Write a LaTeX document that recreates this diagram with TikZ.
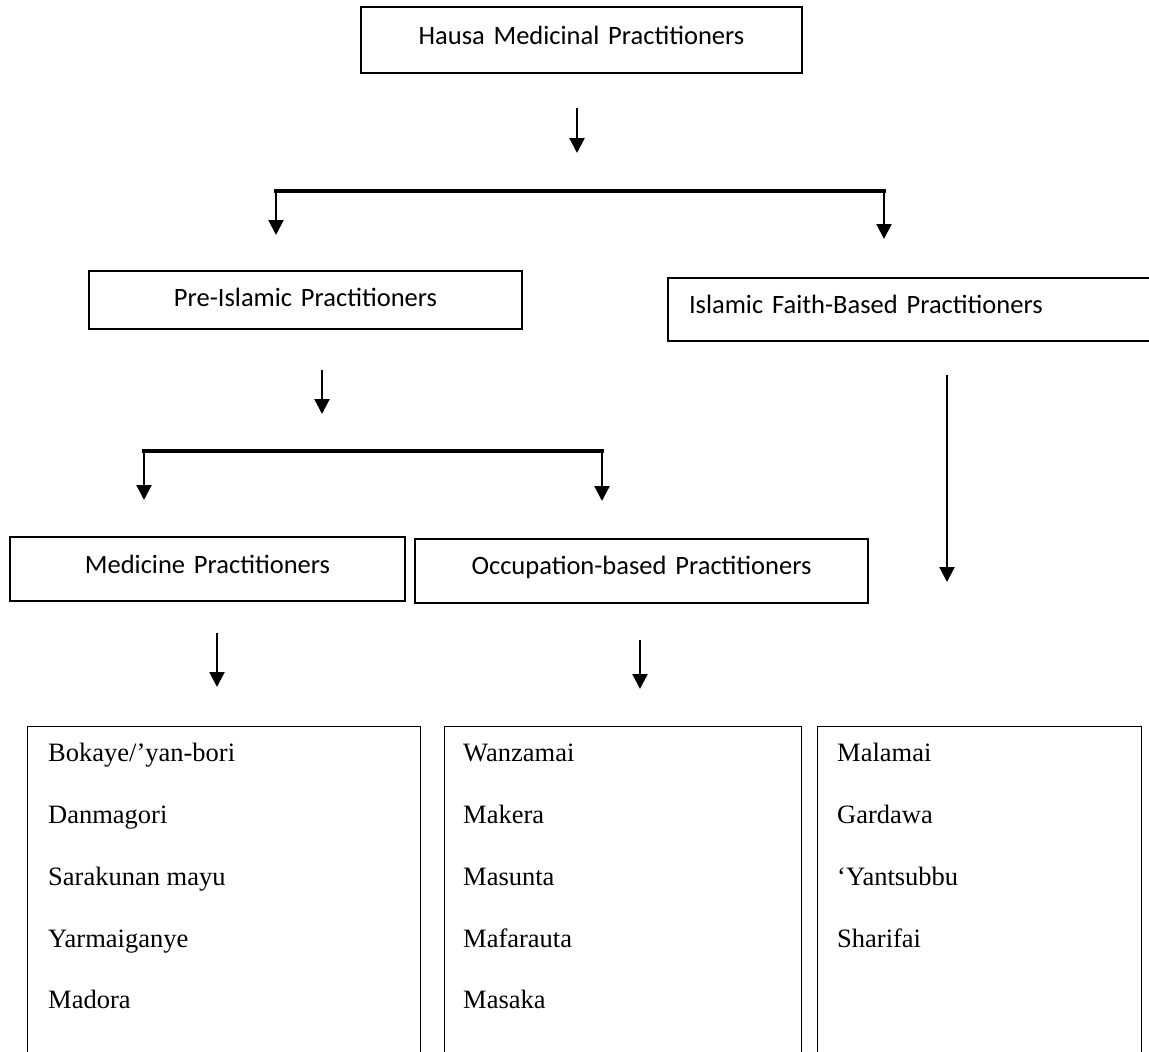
\documentclass[tikz,border=0pt]{standalone}
\usepackage{fontspec}
\setmainfont{Liberation Serif}
\newfontfamily\calib{Carlito}
\usetikzlibrary{arrows.meta}
\begin{document}
\begin{tikzpicture}[x=1pt,y=-1pt,
  box/.style={draw=black,line width=1.1pt,inner sep=0pt,anchor=base,font=\calib\fontsize{26.5}{30}\selectfont},
  listbox/.style={draw=black,line width=1.1pt,inner sep=0pt,anchor=north west},
  item/.style={anchor=base west,inner sep=0pt,font=\fontsize{26.5}{30}\selectfont},
  arr/.style={line width=2.2pt,-{Triangle[length=15pt,width=15pt]}},
  barline/.style={line width=3.3pt,line cap=rect}]
\useasboundingbox (0,0) rectangle (1149,1052);
\clip (0,0) rectangle (1149,1052);
\fill[white] (0,0) rectangle (1149,1052);

% category boxes
\node[box,text width=441pt,align=center,text height=37pt,text depth=29pt] (hausa) at (581.5,44) {Hausa Medicinal Practitioners};
\node[box,text width=433pt,align=center,text height=35.7pt,text depth=22.3pt] (pre) at (305.5,306.7) {Pre-Islamic Practitioners};
\node[box,text width=442pt,inner xsep=21pt,align=left,text height=35.3pt,text depth=27.7pt] (isl) at (910,313.3) {Islamic Faith-Based Practitioners};
\node[box,text width=395pt,align=center,text height=36.3pt,text depth=27.7pt] (med) at (207.5,573.3) {Medicine Practitioners};
\node[box,text width=453pt,align=center,text height=35.5pt,text depth=28.5pt] (occ) at (641.5,574.5) {Occupation-based Practitioners};

% list boxes (continue beyond the lower edge)
\node[listbox,minimum width=393pt,minimum height=340pt] (lbox) at (27,726) {};
\node[listbox,minimum width=357pt,minimum height=340pt] (mbox) at (444,726) {};
\node[listbox,minimum width=324pt,minimum height=340pt] (rbox) at (817,726) {};

\node[item] (l1) at (48,761) {Bokaye/’yan-bori};
\node[item] (l2) at (48,823) {Danmagori};
\node[item] (l3) at (48,885) {Sarakunan mayu};
\node[item] (l4) at (48,947) {Yarmaiganye};
\node[item] (l5) at (48,1008) {Madora};

\node[item] (m1) at (463,761) {Wanzamai};
\node[item] (m2) at (463,823) {Makera};
\node[item] (m3) at (463,885) {Masunta};
\node[item] (m4) at (463,947) {Mafarauta};
\node[item] (m5) at (463,1008) {Masaka};

\node[item] (r1) at (837,761) {Malamai};
\node[item] (r2) at (837,823) {Gardawa};
\node[item] (r3) at (837,885) {‘Yantsubbu};
\node[item] (r4) at (837,947) {Sharifai};

% connector coordinates
\coordinate (a1s) at (577,108);  \coordinate (a1e) at (577,153);
\coordinate (b1l) at (276,191);  \coordinate (b1r) at (884,191);
\coordinate (b1le) at (276,235); \coordinate (b1re) at (884,239);
\coordinate (a2s) at (322,370);  \coordinate (a2e) at (322,414);
\coordinate (b2l) at (144,451);  \coordinate (b2r) at (602,451);
\coordinate (b2le) at (144,500); \coordinate (b2re) at (602,501);
\coordinate (a3s) at (947,375);  \coordinate (a3e) at (947,582);
\coordinate (a4s) at (217,633);  \coordinate (a4e) at (217,687);
\coordinate (a5s) at (640,640);  \coordinate (a5e) at (640,689);

\draw[arr] (a1s) -- (a1e);
\draw[barline] (b1l) -- (b1r);
\draw[arr] (b1l) -- (b1le);
\draw[arr] (b1r) -- (b1re);
\draw[arr] (a2s) -- (a2e);
\draw[barline] (b2l) -- (b2r);
\draw[arr] (b2l) -- (b2le);
\draw[arr] (b2r) -- (b2re);
\draw[arr] (a3s) -- (a3e);
\draw[arr] (a4s) -- (a4e);
\draw[arr] (a5s) -- (a5e);
\end{tikzpicture}
\end{document}
